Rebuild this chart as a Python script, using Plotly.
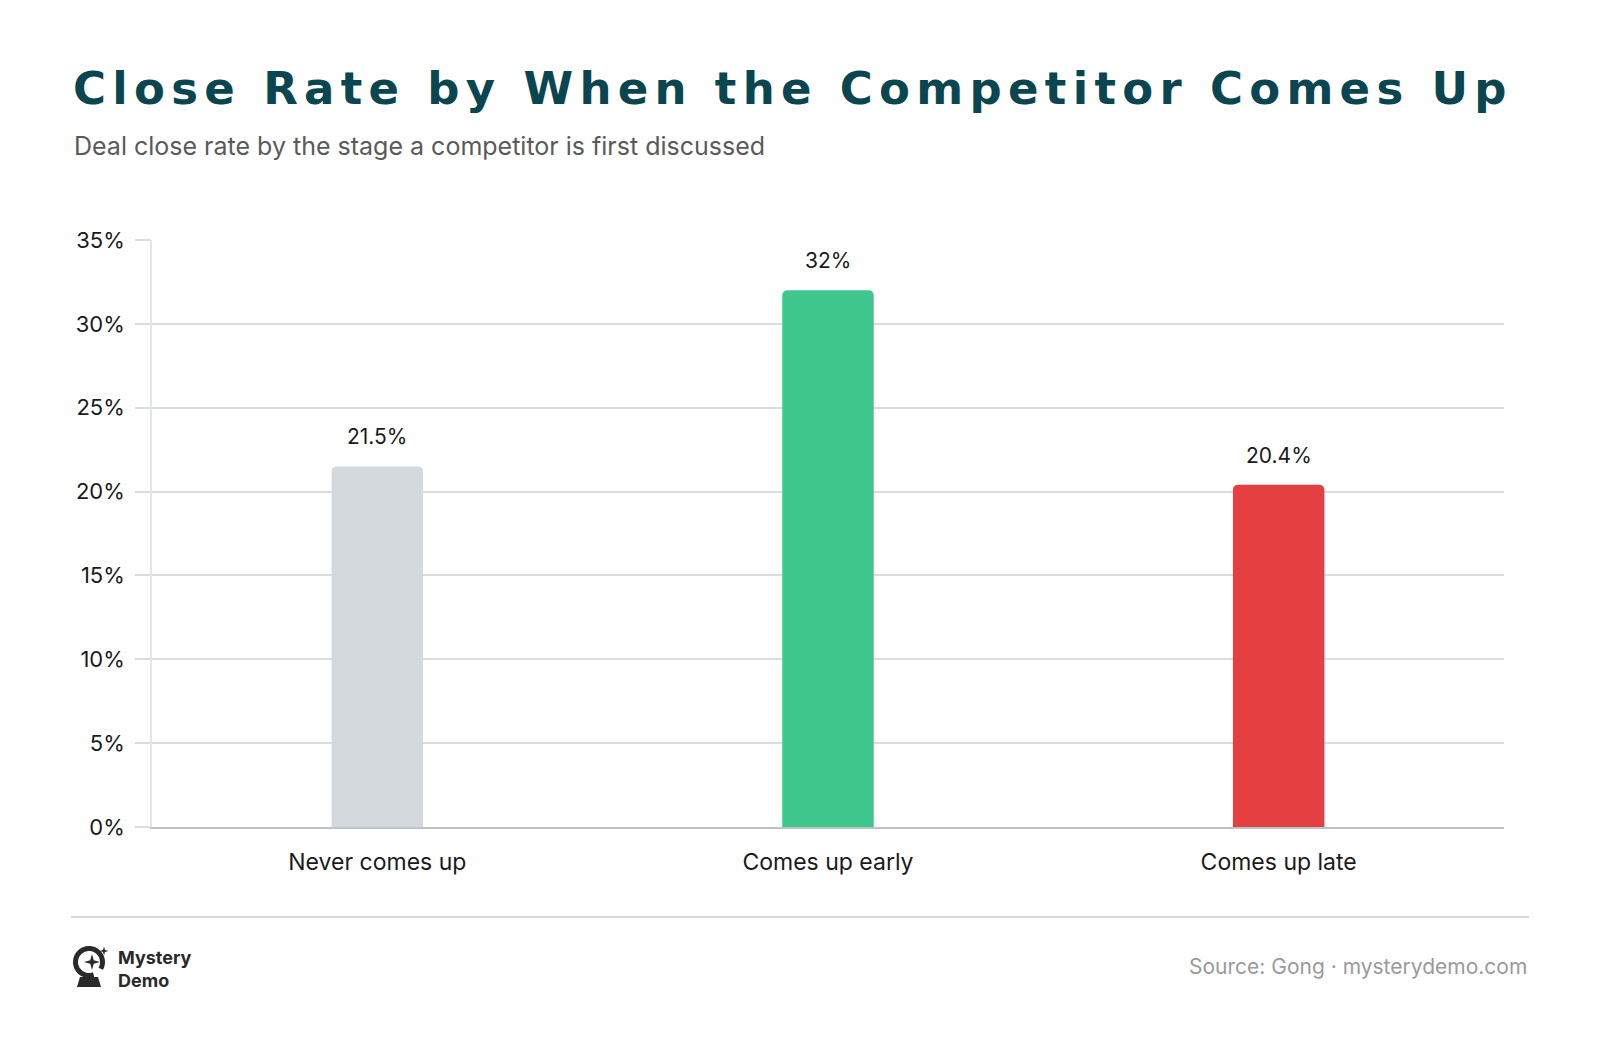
import numpy as np
import plotly.graph_objects as go

categories = ["Never comes up", "Comes up early", "Comes up late"]
close_rate = [21.5, 32.0, 20.4]
value_labels = ["21.5%", "32%", "20.4%"]
bar_colors = ["#D4D9DD", "#40C78E", "#E43F41"]
y_ticks = [0, 5, 10, 15, 20, 25, 30, 35]
y_tick_labels = [f"{v}%" for v in y_ticks]

title_text = "Close Rate by When the Competitor Comes Up"
subtitle_text = "Deal close rate by the stage a competitor is first discussed"
source_text = "Source: Gong · mysterydemo.com"
brand_lines = ["Mystery", "Demo"]

W, H = 1600, 1042
ML, MR, MT, MB = 152, 96, 240, 215
PW, PH = W - ML - MR, H - MT - MB


def px(x):
    return (x - ML) / PW


def py(y):
    return (H - MB - y) / PH


fig = go.Figure()
fig.add_trace(go.Bar(
    x=categories, y=close_rate, marker=dict(color=bar_colors, line=dict(width=0)),
    width=0.203, hoverinfo="skip",
))

annotations = []
for c, v, t in zip(categories, close_rate, value_labels):
    annotations.append(dict(x=c, y=v, xref="x", yref="y", text=t, showarrow=False,
                            yanchor="bottom", yshift=15,
                            font=dict(family="Inter", size=21, color="#1a1a1a")))

annotations += [
    dict(x=px(71), y=py(88), xref="paper", yref="paper",
         text=f"<span style='letter-spacing:6.3px'><b>{title_text}</b></span>",
         showarrow=False, xanchor="left", yanchor="middle",
         font=dict(family="DejaVu Sans", size=45, color="#0B4650")),
    dict(x=px(72), y=py(146), xref="paper", yref="paper", text=subtitle_text,
         showarrow=False, xanchor="left", yanchor="middle",
         font=dict(family="Inter", size=25, color="#5a5a5a")),
    dict(x=px(1529), y=py(966), xref="paper", yref="paper", text=source_text,
         showarrow=False, xanchor="right", yanchor="middle",
         font=dict(family="Inter", size=21, color="#9a9a9a")),
    dict(x=px(116), y=py(969), xref="paper", yref="paper",
         text="<b>" + "<br>".join(brand_lines) + "</b>",
         showarrow=False, xanchor="left", yanchor="middle", align="left",
         font=dict(family="Inter", size=18, color="#2a2a2a")),
]

shapes = [
    dict(type="line", xref="paper", yref="paper", x0=px(71), x1=px(1529), y0=py(917), y1=py(917),
         line=dict(color="#D5DADE", width=2)),
]

# logo: crystal ball
cx, cy, r = 89, 962, 13.5
ang = np.linspace(np.deg2rad(-30), np.deg2rad(290), 40)
pts = [(cx + r * np.cos(a), cy - r * np.sin(a)) for a in ang]
path = "M " + " L ".join(f"{px(x):.5f},{py(y):.5f}" for x, y in pts)
shapes.append(dict(type="path", xref="paper", yref="paper", path=path,
                   line=dict(color="#2a2a2a", width=5)))
base = [(80, 977), (98, 977), (101, 987), (77, 987)]
shapes.append(dict(type="path", xref="paper", yref="paper",
                   path="M " + " L ".join(f"{px(x):.5f},{py(y):.5f}" for x, y in base) + " Z",
                   fillcolor="#2a2a2a", line=dict(width=0)))


def star(sx, sy, s):
    p = [(sx, sy - s), (sx + s * 0.22, sy - s * 0.22), (sx + s, sy), (sx + s * 0.22, sy + s * 0.22),
         (sx, sy + s), (sx - s * 0.22, sy + s * 0.22), (sx - s, sy), (sx - s * 0.22, sy - s * 0.22)]
    return "M " + " L ".join(f"{px(x):.5f},{py(y):.5f}" for x, y in p) + " Z"


shapes.append(dict(type="path", xref="paper", yref="paper", path=star(92, 962, 8),
                   fillcolor="#2a2a2a", line=dict(width=0)))
shapes.append(dict(type="path", xref="paper", yref="paper", path=star(104, 951, 4.5),
                   fillcolor="#2a2a2a", line=dict(width=0)))

fig.update_layout(
    width=W, height=H, margin=dict(l=ML, r=MR, t=MT, b=MB, pad=0),
    paper_bgcolor="white", plot_bgcolor="white", showlegend=False,
    barcornerradius=5, annotations=annotations, shapes=shapes,
    xaxis=dict(showgrid=False, showline=True, linecolor="#BEC2C6", linewidth=2,
               ticks="", tickfont=dict(family="Inter", size=23, color="#1a1a1a"),
               ticklabelstandoff=13, zeroline=False, fixedrange=True),
    yaxis=dict(range=[0, 35], tickvals=y_ticks, ticktext=y_tick_labels,
               showgrid=True, gridcolor="#D9DDE1", gridwidth=1.5,
               showline=True, linecolor="#E3E6E9", linewidth=1.5,
               ticks="outside", ticklen=15, tickcolor="#D9DDE1", tickwidth=1.5,
               tickfont=dict(family="Inter", size=22, color="#1a1a1a"),
               ticklabelstandoff=6, zeroline=False, fixedrange=True),
)

fig.write_html("out.html")
